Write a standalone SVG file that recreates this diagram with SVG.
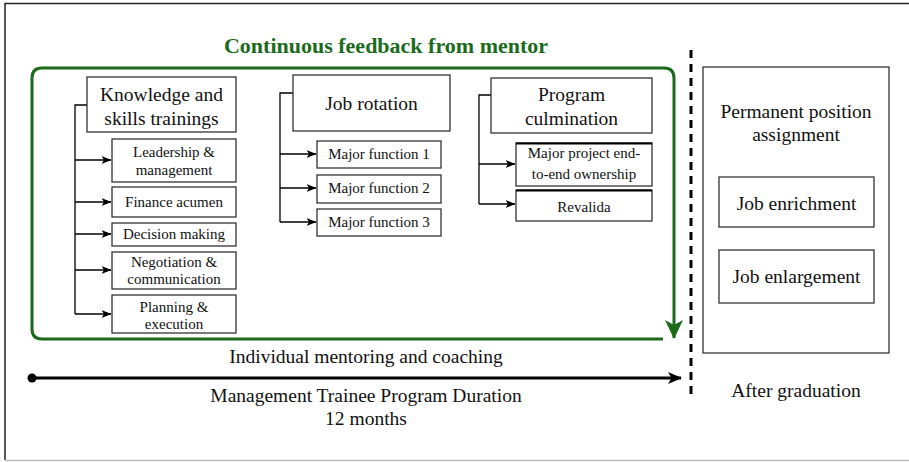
<svg xmlns="http://www.w3.org/2000/svg" width="909" height="462" viewBox="0 0 909 462">
<defs>
<marker id="ah" markerWidth="10" markerHeight="10" viewBox="0 0 10 10" refX="9.5" refY="5" orient="auto" markerUnits="userSpaceOnUse">
<path d="M0,1 L10,5 L0,9 L2.5,5 Z" fill="#000"/>
</marker>
<marker id="ahBig" markerWidth="14" markerHeight="14" viewBox="0 0 14 14" refX="13" refY="7" orient="auto" markerUnits="userSpaceOnUse">
<path d="M0,1 L14,7 L0,13 L3.5,7 Z" fill="#000"/>
</marker>
<marker id="ahGreen" markerWidth="20" markerHeight="20" viewBox="0 0 20 20" refX="18" refY="10" orient="auto" markerUnits="userSpaceOnUse">
<path d="M0,1 L19,10 L0,19 L5,10 Z" fill="#1b6b1b"/>
</marker>
</defs>
<style>
text{font-family:"Liberation Serif","Times New Roman",serif;fill:#111;text-anchor:middle}
.big{font-size:19.5px}
.sm{font-size:15px}
.title{font-size:22px;font-weight:bold;fill:#1b6b1b}
.box{fill:#fff;stroke:#333;stroke-width:1.3}
.con{fill:none;stroke:#000;stroke-width:1.3}
</style>
<rect x="0" y="0" width="909" height="462" fill="#fff"/>
<line x1="5" y1="3.5" x2="909" y2="3.5" stroke="#222" stroke-width="1.5"/>
<line x1="5" y1="3" x2="5" y2="460" stroke="#222" stroke-width="1.5"/>
<line x1="5" y1="460.5" x2="909" y2="460.5" stroke="#bbb" stroke-width="1.5"/>
<text class="title" x="386" y="53">Continuous feedback from mentor</text>

<g id="connectors">
<path d="M663,339 H42 Q32,339 32,329 V78 Q32,68 42,68 H664 Q674,68 674,78 V338" fill="none" stroke="#1b6b1b" stroke-width="3" marker-end="url(#ahGreen)"/>
<path class="con" d="M87,105 H75 V314"/>
<line class="con" x1="75" y1="160" x2="111" y2="160" marker-end="url(#ah)"/>
<line class="con" x1="75" y1="202" x2="111" y2="202" marker-end="url(#ah)"/>
<line class="con" x1="75" y1="234" x2="111" y2="234" marker-end="url(#ah)"/>
<line class="con" x1="75" y1="270" x2="111" y2="270" marker-end="url(#ah)"/>
<line class="con" x1="75" y1="314" x2="111" y2="314" marker-end="url(#ah)"/>
<path class="con" d="M293,93 H280 V222"/>
<line class="con" x1="280" y1="154" x2="316" y2="154" marker-end="url(#ah)"/>
<line class="con" x1="280" y1="188" x2="316" y2="188" marker-end="url(#ah)"/>
<line class="con" x1="280" y1="222" x2="316" y2="222" marker-end="url(#ah)"/>
<path class="con" d="M491,95 H479 V204"/>
<line class="con" x1="479" y1="164" x2="515" y2="164" marker-end="url(#ah)"/>
<line class="con" x1="479" y1="204" x2="515" y2="204" marker-end="url(#ah)"/>
<line x1="691" y1="50" x2="691" y2="394" stroke="#000" stroke-width="3" stroke-dasharray="8,6"/>
<circle cx="32" cy="378" r="4.5" fill="#000"/>
<line x1="32" y1="378" x2="681" y2="378" stroke="#000" stroke-width="3" marker-end="url(#ahBig)"/>
</g>

<g id="knowledge">
<rect class="box" x="87" y="77" width="149" height="55"/>
<text class="big" x="161.5" y="101">Knowledge and</text>
<text class="big" x="161.5" y="125">skills trainings</text>
</g>
<g id="leadership">
<rect class="box" x="112" y="139" width="124" height="43"/>
<text class="sm" x="174" y="157">Leadership &amp;</text>
<text class="sm" x="174" y="175">management</text>
</g>
<g id="finance">
<rect class="box" x="112" y="187" width="124" height="30"/>
<text class="sm" x="174" y="207">Finance acumen</text>
</g>
<g id="decision">
<rect class="box" x="112" y="223" width="124" height="23"/>
<text class="sm" x="174" y="239">Decision making</text>
</g>
<g id="negotiation">
<rect class="box" x="112" y="252" width="124" height="37"/>
<text class="sm" x="174" y="267">Negotiation &amp;</text>
<text class="sm" x="174" y="284">communication</text>
</g>
<g id="planning">
<rect class="box" x="112" y="295" width="124" height="38"/>
<text class="sm" x="174" y="312">Planning &amp;</text>
<text class="sm" x="174" y="329">execution</text>
</g>

<g id="jobrotation">
<rect class="box" x="293" y="75" width="157" height="56"/>
<text class="big" x="371.5" y="110">Job rotation</text>
</g>
<g id="mf1">
<rect class="box" x="317" y="141" width="124" height="27"/>
<text class="sm" x="379" y="159">Major function 1</text>
</g>
<g id="mf2">
<rect class="box" x="317" y="175" width="124" height="28"/>
<text class="sm" x="379" y="193">Major function 2</text>
</g>
<g id="mf3">
<rect class="box" x="317" y="209" width="124" height="27"/>
<text class="sm" x="379" y="227">Major function 3</text>
</g>

<g id="culmination">
<rect class="box" x="491" y="78" width="161" height="55"/>
<text class="big" x="571.5" y="101">Program</text>
<text class="big" x="571.5" y="125">culmination</text>
</g>
<g id="project">
<rect class="box" x="516" y="143" width="136" height="43" stroke-width="1.6"/>
<line x1="516" y1="143.5" x2="652" y2="143.5" stroke="#000" stroke-width="2"/>
<text class="sm" x="584" y="158">Major project end-</text>
<text class="sm" x="584" y="179">to-end ownership</text>
</g>
<g id="revalida">
<rect class="box" x="516" y="190" width="136" height="31" stroke-width="1.6"/>
<line x1="516" y1="190.5" x2="652" y2="190.5" stroke="#000" stroke-width="2"/>
<text class="sm" x="584" y="212">Revalida</text>
</g>

<g id="permanent">
<rect class="box" x="703" y="67" width="186" height="286"/>
<text class="big" x="796" y="118">Permanent position</text>
<text class="big" x="796" y="141">assignment</text>
</g>
<g id="enrichment">
<rect class="box" x="719" y="177" width="155" height="50"/>
<text class="big" x="796.5" y="210">Job enrichment</text>
</g>
<g id="enlargement">
<rect class="box" x="719" y="250" width="155" height="53"/>
<text class="big" x="796.5" y="283">Job enlargement</text>
</g>

<text class="big" x="366" y="363">Individual mentoring and coaching</text>
<text class="big" x="366" y="402">Management Trainee Program Duration</text>
<text class="big" x="366" y="425">12 months</text>
<text class="big" x="796" y="397">After graduation</text>
</svg>
